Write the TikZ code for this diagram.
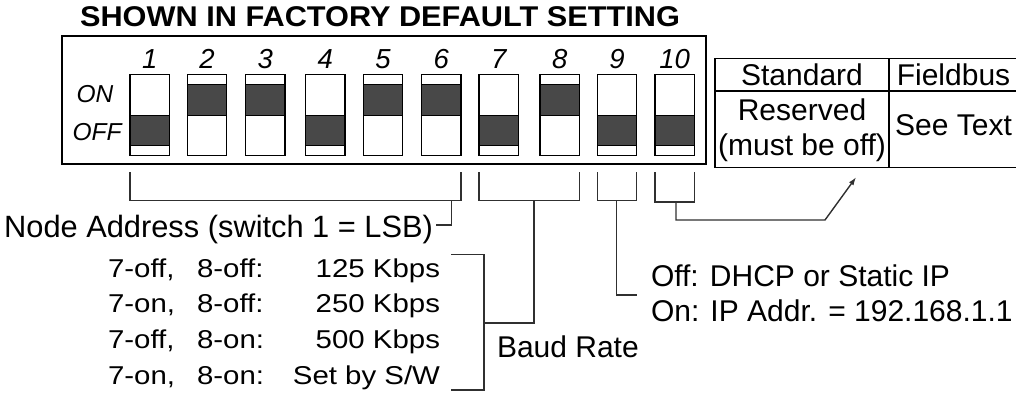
\documentclass[tikz,border=0pt]{standalone}
\usepackage{fontspec}
\setmainfont{Liberation Sans}
\usetikzlibrary{arrows.meta,calc}
\definecolor{levergray}{HTML}{484848}
\definecolor{linegray}{HTML}{303030}
\newcommand{\bts}[1]{\scalebox{1.14}[1]{#1}}
\begin{document}
\begin{tikzpicture}[x=1pt,y=-1pt,
  sw/.style={draw=black, line width=1.3pt, fill=white, minimum width=39.3pt, minimum height=81.4pt, inner sep=0pt, outer sep=0pt},
  lever/.style={draw=black, line width=1.2pt, fill=levergray},
  br/.style={draw=linegray, line width=1.4pt},
  txt/.style={inner sep=0pt, outer sep=0pt, font=\fontsize{30}{36}\selectfont},
  btxt/.style={inner sep=0pt, outer sep=0pt, font=\fontsize{25.8}{30}\selectfont},
  num/.style={inner sep=0pt, outer sep=0pt, font=\fontsize{27.5}{32}\selectfont\itshape},
  onoff/.style={inner sep=0pt, outer sep=0pt, font=\fontsize{24.5}{30}\selectfont\itshape},
  cell/.style={draw=black, line width=1.5pt, inner sep=0pt, outer sep=0pt, anchor=north west}]
\useasboundingbox (0,0) rectangle (1016,396);

% title
\node[txt, font=\fontsize{30.7}{36}\selectfont\bfseries, anchor=base] (title) at (380,27) {\scalebox{1}[0.93]{SHOWN IN FACTORY DEFAULT SETTING}};

% outer box
\node[draw=black, line width=2pt, minimum width=644pt, minimum height=128pt, anchor=north west, inner sep=0pt] (box) at (61,35) {};

\node[onoff, anchor=base] (on) at (95,102) {ON};
\node[onoff, anchor=base] (off) at (97,140) {OFF};

% switches
\foreach \i/\xl/\st in {1/130/0, 2/187.3/1, 3/245.7/1, 4/305.7/0, 5/363.3/1, 6/421.7/1, 7/479/0, 8/540/1, 9/597.3/0, 10/655/0}{
  \node[sw] (s\i) at (\xl+19.65,115) {};
  \ifnum\st=1
    \filldraw[lever] ($(s\i.north west)+(0,10)$) rectangle ($(s\i.east)+(0,0.7)$);
  \else
    \filldraw[lever] ($(s\i.west)+(0,0.7)$) rectangle ($(s\i.south east)+(0,-10)$);
  \fi
  \node[num, anchor=base] (n\i) at (s\i.center |- 0,68) {\i};
}

% table
\node[cell, minimum width=174pt, minimum height=32.7pt] (t11) at (715,58.3) {};
\node[cell, minimum width=129pt, minimum height=32.7pt] (t12) at (889,58.3) {};
\node[cell, minimum width=174pt, minimum height=76.3pt] (t21) at (715,91) {};
\node[cell, minimum width=129pt, minimum height=76.3pt] (t22) at (889,91) {};
\node[txt, anchor=base] (std) at (802,85.7) {Standard};
\node[txt, anchor=base] (fb) at (953.5,85.7) {Fieldbus};
\node[txt, anchor=base] (res) at (802,120) {Reserved};
\node[txt, anchor=base] (mbo) at (802,155) {(must be off)};
\node[txt, anchor=base] (see) at (953.5,135) {See Text};

% labels
\node[txt, font=\fontsize{30.8}{36}\selectfont, anchor=base east] (na) at (433,237) {Node Address (switch 1 = LSB)};
\node[txt, anchor=base west] (baud) at (497,357) {Baud Rate};
\node[txt, anchor=base west] (ip1) at (651,286) {Off: DHCP or Static IP};
\node[txt, anchor=base west] (ip2) at (651,321) {On: IP Addr. = 192.168.1.1};

\node[btxt, anchor=base west] (ba1) at (108,277) {\bts{7-off,}};
\node[btxt, anchor=base west] (bb1) at (197,277) {\bts{8-off:}};
\node[btxt, anchor=base east] (bc1) at (440,277) {\bts{125 Kbps}};
\node[btxt, anchor=base west] (ba2) at (108,312.7) {\bts{7-on,}};
\node[btxt, anchor=base west] (bb2) at (197,312.7) {\bts{8-off:}};
\node[btxt, anchor=base east] (bc2) at (440,312.7) {\bts{250 Kbps}};
\node[btxt, anchor=base west] (ba3) at (108,348.3) {\bts{7-off,}};
\node[btxt, anchor=base west] (bb3) at (197,348.3) {\bts{8-on:}};
\node[btxt, anchor=base east] (bc3) at (440,348.3) {\bts{500 Kbps}};
\node[btxt, anchor=base west] (ba4) at (108,384) {\bts{7-on,}};
\node[btxt, anchor=base west] (bb4) at (197,384) {\bts{8-on:}};
\node[btxt, anchor=base east] (bc4) at (440,384) {\bts{Set by S/W}};

% brackets
\coordinate (ytop) at (0,172);
\coordinate (ybot) at (0,200.5);
\coordinate (ybotb) at (0,202);
\draw[br] (s1.south west |- ytop) |- (s6.south east |- ybot) -- (s6.south east |- ytop);
\draw[br] (s7.south west |- ytop) |- (s8.south east |- ybot) -- (s8.south east |- ytop);
\draw[br] (s9.south west |- ytop) |- (s9.south east |- ybot) -- (s9.south east |- ytop);
\draw[br] (s10.south west |- ytop) |- (s10.south east |- ybotb) -- (s10.south east |- ytop);

% node address hook
\coordinate (nas) at (451.7,200.5);
\draw[br] (nas) |- ($(na.base east)+(3,-12)$);

% baud stem and list bracket
\coordinate (bs) at (534,200.5);
\coordinate (bj) at (484,323);
\coordinate (blt) at (451,254.5);
\coordinate (blb) at (451,390);
\draw[br] (bs) |- (bj);
\draw[br] (blt) -| (bj |- blb) -- (blb);

% IP stem
\coordinate (ips) at (616.7,200.5);
\coordinate (ipe) at (636.7,295);
\draw[br] (ips) |- (ipe);

% switch 10 arrow
\coordinate (tns) at (676,202);
\coordinate (tnk) at (825,220);
\draw[br, -{Latex[length=8pt,width=5.5pt]}] (tns) |- (tnk) -- ($(t21.south)+(54,10)$);
\end{tikzpicture}
\end{document}
